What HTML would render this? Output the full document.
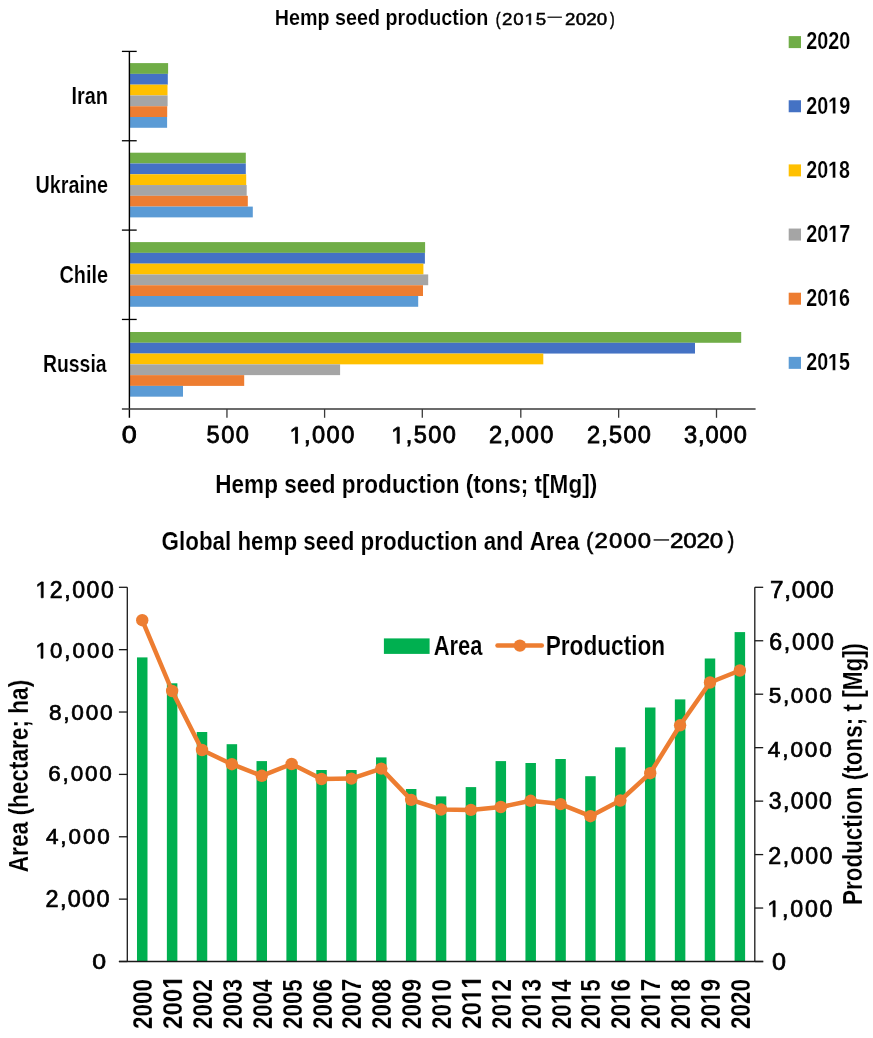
<!DOCTYPE html>
<html><head><meta charset="utf-8"><title>Hemp seed production charts</title>
<style>
html,body{margin:0;padding:0;background:#fff;}
body{width:873px;height:1038px;overflow:hidden;}
svg{display:block;font-family:"Liberation Sans",sans-serif;font-kerning:none;will-change:transform;}
text{font-kerning:none;}
text[font-weight="bold"]{stroke:#fff;stroke-width:0.15px;}
.rl{stroke:#000;stroke-width:0.7px;}
.m1{stroke:#000;stroke-width:0.8px;}
.m2{stroke:#000;stroke-width:0.5px;}
.m3{stroke:#000;stroke-width:0.65px;}
</style></head>
<body>
<svg width="873" height="1038" viewBox="0 0 873 1038">
<rect x="0" y="0" width="873" height="1038" fill="#fff"/>
<rect x="129.40" y="63.10" width="38.70" height="10.78" fill="#70AD47"/>
<rect x="129.40" y="73.88" width="38.40" height="10.78" fill="#4472C4"/>
<rect x="129.40" y="84.66" width="38.10" height="10.78" fill="#FFC000"/>
<rect x="129.40" y="95.44" width="38.20" height="10.78" fill="#A5A5A5"/>
<rect x="129.40" y="106.22" width="37.80" height="10.78" fill="#ED7D31"/>
<rect x="129.40" y="117.00" width="37.70" height="10.78" fill="#5B9BD5"/>
<rect x="129.40" y="152.70" width="116.40" height="10.78" fill="#70AD47"/>
<rect x="129.40" y="163.48" width="116.40" height="10.78" fill="#4472C4"/>
<rect x="129.40" y="174.26" width="116.80" height="10.78" fill="#FFC000"/>
<rect x="129.40" y="185.04" width="117.30" height="10.78" fill="#A5A5A5"/>
<rect x="129.40" y="195.82" width="118.40" height="10.78" fill="#ED7D31"/>
<rect x="129.40" y="206.60" width="123.40" height="10.78" fill="#5B9BD5"/>
<rect x="129.40" y="242.10" width="295.70" height="10.78" fill="#70AD47"/>
<rect x="129.40" y="252.88" width="295.50" height="10.78" fill="#4472C4"/>
<rect x="129.40" y="263.66" width="294.00" height="10.78" fill="#FFC000"/>
<rect x="129.40" y="274.44" width="298.80" height="10.78" fill="#A5A5A5"/>
<rect x="129.40" y="285.22" width="293.60" height="10.78" fill="#ED7D31"/>
<rect x="129.40" y="296.00" width="288.80" height="10.78" fill="#5B9BD5"/>
<rect x="129.40" y="332.00" width="611.80" height="10.78" fill="#70AD47"/>
<rect x="129.40" y="342.78" width="565.60" height="10.78" fill="#4472C4"/>
<rect x="129.40" y="353.56" width="413.90" height="10.78" fill="#FFC000"/>
<rect x="129.40" y="364.34" width="210.70" height="10.78" fill="#A5A5A5"/>
<rect x="129.40" y="375.12" width="114.80" height="10.78" fill="#ED7D31"/>
<rect x="129.40" y="385.90" width="53.60" height="10.78" fill="#5B9BD5"/>
<line x1="129.4" y1="51.4" x2="129.4" y2="417.8" stroke="#000" stroke-width="1.4"/>
<line x1="121.9" y1="51.40" x2="136.7" y2="51.40" stroke="#000" stroke-width="1.3"/>
<line x1="121.9" y1="140.75" x2="136.7" y2="140.75" stroke="#000" stroke-width="1.3"/>
<line x1="121.9" y1="230.10" x2="136.7" y2="230.10" stroke="#000" stroke-width="1.3"/>
<line x1="121.9" y1="319.45" x2="136.7" y2="319.45" stroke="#000" stroke-width="1.3"/>
<line x1="121.9" y1="409.0" x2="755.6" y2="409.0" stroke="#3a3a3a" stroke-width="1.4"/>
<line x1="226.95" y1="409" x2="226.95" y2="417.8" stroke="#3a3a3a" stroke-width="1.3"/>
<line x1="324.60" y1="409" x2="324.60" y2="417.8" stroke="#3a3a3a" stroke-width="1.3"/>
<line x1="422.30" y1="409" x2="422.30" y2="417.8" stroke="#3a3a3a" stroke-width="1.3"/>
<line x1="520.80" y1="409" x2="520.80" y2="417.8" stroke="#3a3a3a" stroke-width="1.3"/>
<line x1="618.65" y1="409" x2="618.65" y2="417.8" stroke="#3a3a3a" stroke-width="1.3"/>
<line x1="716.50" y1="409" x2="716.50" y2="417.8" stroke="#3a3a3a" stroke-width="1.3"/>
<text x="71.39" y="104.38" font-size="24.65" font-weight="bold" textLength="36.53" lengthAdjust="spacingAndGlyphs" fill="#000">Iran</text>
<text x="35.43" y="193.48" font-size="23.78" font-weight="bold" textLength="72.63" lengthAdjust="spacingAndGlyphs" fill="#000">Ukraine</text>
<text x="59.50" y="282.88" font-size="24.22" font-weight="bold" textLength="48.66" lengthAdjust="spacingAndGlyphs" fill="#000">Chile</text>
<text x="43.02" y="372.08" font-size="24.80" font-weight="bold" textLength="63.53" lengthAdjust="spacingAndGlyphs" fill="#000">Russia</text>
<rect x="788.7" y="36.10" width="12.3" height="12.0" fill="#70AD47"/>
<text x="806.24" y="49.45" font-size="23.39" font-weight="bold" textLength="43.96" lengthAdjust="spacingAndGlyphs" fill="#000">2020</text>
<rect x="788.7" y="100.25" width="12.3" height="12.0" fill="#4472C4"/>
<text x="806.24" y="113.60" font-size="23.39" font-weight="bold" textLength="43.88" lengthAdjust="spacingAndGlyphs" fill="#000">20 9</text><path transform="translate(828.174,113.602) scale(0.009630,0.011421)" d="M478,0 L478,-1170 L140,-959 L140,-1180 L493,-1409 L759,-1409 L759,0 Z" fill="#000" stroke="#fff" stroke-width="0.15" vector-effect="non-scaling-stroke"/>
<rect x="788.7" y="164.40" width="12.3" height="12.0" fill="#FFC000"/>
<text x="806.24" y="177.75" font-size="23.39" font-weight="bold" textLength="43.75" lengthAdjust="spacingAndGlyphs" fill="#000">20 8</text><path transform="translate(828.112,177.752) scale(0.009602,0.011421)" d="M478,0 L478,-1170 L140,-959 L140,-1180 L493,-1409 L759,-1409 L759,0 Z" fill="#000" stroke="#fff" stroke-width="0.15" vector-effect="non-scaling-stroke"/>
<rect x="788.7" y="228.55" width="12.3" height="12.0" fill="#A5A5A5"/>
<text x="806.23" y="241.90" font-size="23.39" font-weight="bold" textLength="44.02" lengthAdjust="spacingAndGlyphs" fill="#000">20 7</text><path transform="translate(828.242,241.902) scale(0.009661,0.011421)" d="M478,0 L478,-1170 L140,-959 L140,-1180 L493,-1409 L759,-1409 L759,0 Z" fill="#000" stroke="#fff" stroke-width="0.15" vector-effect="non-scaling-stroke"/>
<rect x="788.7" y="292.70" width="12.3" height="12.0" fill="#ED7D31"/>
<text x="806.24" y="306.05" font-size="23.39" font-weight="bold" textLength="43.86" lengthAdjust="spacingAndGlyphs" fill="#000">20 6</text><path transform="translate(828.164,306.052) scale(0.009626,0.011421)" d="M478,0 L478,-1170 L140,-959 L140,-1180 L493,-1409 L759,-1409 L759,0 Z" fill="#000" stroke="#fff" stroke-width="0.15" vector-effect="non-scaling-stroke"/>
<rect x="788.7" y="356.85" width="12.3" height="12.0" fill="#5B9BD5"/>
<text x="806.24" y="370.20" font-size="23.39" font-weight="bold" textLength="43.69" lengthAdjust="spacingAndGlyphs" fill="#000">20 5</text><path transform="translate(828.083,370.202) scale(0.009589,0.011421)" d="M478,0 L478,-1170 L140,-959 L140,-1180 L493,-1409 L759,-1409 L759,0 Z" fill="#000" stroke="#fff" stroke-width="0.15" vector-effect="non-scaling-stroke"/>
<text x="121.85" y="443.37" font-size="23.59" font-weight="normal" textLength="15.01" lengthAdjust="spacingAndGlyphs" fill="#000" class="m1">0</text>
<text x="206.46" y="443.37" font-size="23.59" font-weight="normal" letter-spacing="1.56" fill="#000" class="m1">500</text>
<text x="289.53" y="443.37" font-size="23.59" font-weight="normal" letter-spacing="1.44" fill="#000" class="m1"> ,000</text><path transform="translate(289.531,443.370) scale(0.011517)" d="M515,0 L515,-1237 L197,-1010 L197,-1180 L530,-1409 L696,-1409 L696,0 Z" fill="#000" stroke="#000" stroke-width="0.8" vector-effect="non-scaling-stroke"/>
<text x="391.23" y="443.37" font-size="23.59" font-weight="normal" letter-spacing="1.42" fill="#000" class="m1"> ,500</text><path transform="translate(391.231,443.370) scale(0.011517)" d="M515,0 L515,-1237 L197,-1010 L197,-1180 L530,-1409 L696,-1409 L696,0 Z" fill="#000" stroke="#000" stroke-width="0.8" vector-effect="non-scaling-stroke"/>
<text x="489.11" y="443.37" font-size="23.59" font-weight="normal" letter-spacing="1.30" fill="#000" class="m1">2,000</text>
<text x="587.01" y="443.37" font-size="23.59" font-weight="normal" letter-spacing="1.20" fill="#000" class="m1">2,500</text>
<text x="683.90" y="443.37" font-size="23.59" font-weight="normal" letter-spacing="0.97" fill="#000" class="m1">3,000</text>
<text x="274.85" y="25.18" font-size="22.91" font-weight="bold" textLength="213.55" lengthAdjust="spacingAndGlyphs" fill="#000">Hemp seed production</text>
<text transform="translate(503.00,24.84) scale(1.150,1)" x="-0.82" y="0" font-size="16.24" font-weight="normal" letter-spacing="0.72" fill="#000" class="m2">20 5</text><path transform="translate(503.000,24.841) scale(1.1500,1) translate(18.682,0) scale(0.007931)" d="M515,0 L515,-1237 L197,-1010 L197,-1180 L530,-1409 L696,-1409 L696,0 Z" fill="#000" stroke="#000" stroke-width="0.5" vector-effect="non-scaling-stroke"/>
<text x="495.71" y="25.11" font-size="17.82" font-weight="normal" textLength="4.77" lengthAdjust="spacingAndGlyphs" fill="#000" class="m2">(</text>
<rect x="547.5" y="16.6" width="14.4" height="1.2" fill="#000"/>
<text transform="translate(566.00,24.74) scale(1.150,1)" x="-0.82" y="0" font-size="16.24" font-weight="normal" letter-spacing="0.15" fill="#000" class="m2">2020</text>
<text x="610.12" y="25.16" font-size="18.57" font-weight="normal" textLength="4.65" lengthAdjust="spacingAndGlyphs" fill="#000" class="m2">)</text>
<text x="215.31" y="492.88" font-size="26.25" font-weight="bold" textLength="381.89" lengthAdjust="spacingAndGlyphs" fill="#000">Hemp seed production (tons; t[Mg])</text>
<rect x="136.99" y="657.40" width="10.50" height="304.10" fill="#00B050"/>
<rect x="166.87" y="683.30" width="10.50" height="278.20" fill="#00B050"/>
<rect x="196.75" y="732.00" width="10.50" height="229.50" fill="#00B050"/>
<rect x="226.63" y="744.20" width="10.50" height="217.30" fill="#00B050"/>
<rect x="256.51" y="761.10" width="10.50" height="200.40" fill="#00B050"/>
<rect x="286.40" y="765.00" width="10.50" height="196.50" fill="#00B050"/>
<rect x="316.28" y="770.00" width="10.50" height="191.50" fill="#00B050"/>
<rect x="346.16" y="770.00" width="10.50" height="191.50" fill="#00B050"/>
<rect x="376.04" y="757.40" width="10.50" height="204.10" fill="#00B050"/>
<rect x="405.92" y="789.00" width="10.50" height="172.50" fill="#00B050"/>
<rect x="435.80" y="796.40" width="10.50" height="165.10" fill="#00B050"/>
<rect x="465.68" y="787.10" width="10.50" height="174.40" fill="#00B050"/>
<rect x="495.56" y="761.10" width="10.50" height="200.40" fill="#00B050"/>
<rect x="525.44" y="763.00" width="10.50" height="198.50" fill="#00B050"/>
<rect x="555.32" y="759.00" width="10.50" height="202.50" fill="#00B050"/>
<rect x="585.20" y="776.20" width="10.50" height="185.30" fill="#00B050"/>
<rect x="615.09" y="747.30" width="10.50" height="214.20" fill="#00B050"/>
<rect x="644.97" y="707.50" width="10.50" height="254.00" fill="#00B050"/>
<rect x="674.85" y="699.40" width="10.50" height="262.10" fill="#00B050"/>
<rect x="704.73" y="658.50" width="10.50" height="303.00" fill="#00B050"/>
<rect x="734.61" y="632.10" width="10.50" height="329.40" fill="#00B050"/>
<polyline points="142.24,620.20 172.12,691.00 202.00,750.00 231.88,764.20 261.76,775.80 291.65,764.00 321.53,779.00 351.41,778.60 381.29,768.60 411.17,799.90 441.05,809.50 470.93,809.90 500.81,807.00 530.69,800.80 560.57,804.10 590.45,816.20 620.34,800.50 650.22,773.20 680.10,725.30 709.98,682.50 739.86,670.50" fill="none" stroke="#ED7D31" stroke-width="4.5" stroke-linejoin="round" stroke-linecap="round"/>
<circle cx="142.24" cy="620.20" r="6.2" fill="#ED7D31"/>
<circle cx="172.12" cy="691.00" r="6.2" fill="#ED7D31"/>
<circle cx="202.00" cy="750.00" r="6.2" fill="#ED7D31"/>
<circle cx="231.88" cy="764.20" r="6.2" fill="#ED7D31"/>
<circle cx="261.76" cy="775.80" r="6.2" fill="#ED7D31"/>
<circle cx="291.65" cy="764.00" r="6.2" fill="#ED7D31"/>
<circle cx="321.53" cy="779.00" r="6.2" fill="#ED7D31"/>
<circle cx="351.41" cy="778.60" r="6.2" fill="#ED7D31"/>
<circle cx="381.29" cy="768.60" r="6.2" fill="#ED7D31"/>
<circle cx="411.17" cy="799.90" r="6.2" fill="#ED7D31"/>
<circle cx="441.05" cy="809.50" r="6.2" fill="#ED7D31"/>
<circle cx="470.93" cy="809.90" r="6.2" fill="#ED7D31"/>
<circle cx="500.81" cy="807.00" r="6.2" fill="#ED7D31"/>
<circle cx="530.69" cy="800.80" r="6.2" fill="#ED7D31"/>
<circle cx="560.57" cy="804.10" r="6.2" fill="#ED7D31"/>
<circle cx="590.45" cy="816.20" r="6.2" fill="#ED7D31"/>
<circle cx="620.34" cy="800.50" r="6.2" fill="#ED7D31"/>
<circle cx="650.22" cy="773.20" r="6.2" fill="#ED7D31"/>
<circle cx="680.10" cy="725.30" r="6.2" fill="#ED7D31"/>
<circle cx="709.98" cy="682.50" r="6.2" fill="#ED7D31"/>
<circle cx="739.86" cy="670.50" r="6.2" fill="#ED7D31"/>
<line x1="127.3" y1="587.3" x2="127.3" y2="961.5" stroke="#1a1a1a" stroke-width="1.3"/>
<line x1="754.8" y1="587.3" x2="754.8" y2="961.5" stroke="#1a1a1a" stroke-width="1.3"/>
<line x1="118.9" y1="961.5" x2="763.2" y2="961.5" stroke="#1a1a1a" stroke-width="1.3"/>
<line x1="118.9" y1="961.50" x2="127.3" y2="961.50" stroke="#1a1a1a" stroke-width="1.3"/>
<line x1="118.9" y1="899.13" x2="127.3" y2="899.13" stroke="#1a1a1a" stroke-width="1.3"/>
<line x1="118.9" y1="836.77" x2="127.3" y2="836.77" stroke="#1a1a1a" stroke-width="1.3"/>
<line x1="118.9" y1="774.40" x2="127.3" y2="774.40" stroke="#1a1a1a" stroke-width="1.3"/>
<line x1="118.9" y1="712.03" x2="127.3" y2="712.03" stroke="#1a1a1a" stroke-width="1.3"/>
<line x1="118.9" y1="649.67" x2="127.3" y2="649.67" stroke="#1a1a1a" stroke-width="1.3"/>
<line x1="118.9" y1="587.30" x2="127.3" y2="587.30" stroke="#1a1a1a" stroke-width="1.3"/>
<line x1="754.8" y1="961.50" x2="763.2" y2="961.50" stroke="#1a1a1a" stroke-width="1.3"/>
<line x1="754.8" y1="908.04" x2="763.2" y2="908.04" stroke="#1a1a1a" stroke-width="1.3"/>
<line x1="754.8" y1="854.59" x2="763.2" y2="854.59" stroke="#1a1a1a" stroke-width="1.3"/>
<line x1="754.8" y1="801.13" x2="763.2" y2="801.13" stroke="#1a1a1a" stroke-width="1.3"/>
<line x1="754.8" y1="747.67" x2="763.2" y2="747.67" stroke="#1a1a1a" stroke-width="1.3"/>
<line x1="754.8" y1="694.21" x2="763.2" y2="694.21" stroke="#1a1a1a" stroke-width="1.3"/>
<line x1="754.8" y1="640.76" x2="763.2" y2="640.76" stroke="#1a1a1a" stroke-width="1.3"/>
<line x1="754.8" y1="587.30" x2="763.2" y2="587.30" stroke="#1a1a1a" stroke-width="1.3"/>
<text x="35.39" y="597.78" font-size="23.02" font-weight="normal" letter-spacing="1.60" fill="#000" class="rl"> 2,000</text><path transform="translate(35.385,597.775) scale(0.011241)" d="M515,0 L515,-1237 L197,-1010 L197,-1180 L530,-1409 L696,-1409 L696,0 Z" fill="#000" stroke="#000" stroke-width="0.7" vector-effect="non-scaling-stroke"/>
<text x="35.47" y="658.28" font-size="22.17" font-weight="normal" letter-spacing="2.10" fill="#000" class="rl"> 0,000</text><path transform="translate(35.467,658.283) scale(0.010828)" d="M515,0 L515,-1237 L197,-1010 L197,-1180 L530,-1409 L696,-1409 L696,0 Z" fill="#000" stroke="#000" stroke-width="0.7" vector-effect="non-scaling-stroke"/>
<text x="48.92" y="719.98" font-size="22.60" font-weight="normal" letter-spacing="1.80" fill="#000" class="rl">8,000</text>
<text x="48.26" y="781.48" font-size="22.46" font-weight="normal" letter-spacing="1.83" fill="#000" class="rl">6,000</text>
<text x="45.98" y="843.88" font-size="22.46" font-weight="normal" letter-spacing="1.90" fill="#000" class="rl">4,000</text>
<text x="45.52" y="907.07" font-size="23.45" font-weight="normal" letter-spacing="1.33" fill="#000" class="rl">2,000</text>
<text x="92.23" y="968.68" font-size="22.88" font-weight="normal" textLength="13.84" lengthAdjust="spacingAndGlyphs" fill="#000" class="rl">0</text>
<text x="769.95" y="597.96" font-size="24.29" font-weight="normal" letter-spacing="0.78" fill="#000" class="rl">7,000</text>
<text x="769.32" y="650.47" font-size="23.16" font-weight="normal" letter-spacing="1.63" fill="#000" class="rl">6,000</text>
<text x="768.70" y="703.48" font-size="22.60" font-weight="normal" letter-spacing="1.66" fill="#000" class="rl">5,000</text>
<text x="767.78" y="756.68" font-size="22.60" font-weight="normal" letter-spacing="1.89" fill="#000" class="rl">4,000</text>
<text x="768.72" y="809.38" font-size="23.02" font-weight="normal" letter-spacing="1.39" fill="#000" class="rl">3,000</text>
<text x="768.34" y="864.07" font-size="23.16" font-weight="normal" letter-spacing="1.55" fill="#000" class="rl">2,000</text>
<text x="767.27" y="916.77" font-size="23.16" font-weight="normal" letter-spacing="1.82" fill="#000" class="rl"> ,000</text><path transform="translate(767.272,916.774) scale(0.011310)" d="M515,0 L515,-1237 L197,-1010 L197,-1180 L530,-1409 L696,-1409 L696,0 Z" fill="#000" stroke="#000" stroke-width="0.7" vector-effect="non-scaling-stroke"/>
<text x="772.12" y="969.57" font-size="23.16" font-weight="normal" textLength="13.96" lengthAdjust="spacingAndGlyphs" fill="#000" class="rl">0</text>
<text transform="translate(27.98,871.68) rotate(-90)" x="-0.56" y="0" font-size="27.85" font-weight="bold" textLength="192.45" lengthAdjust="spacingAndGlyphs">Area (hectare; ha)</text>
<text transform="translate(862.18,903.58) rotate(-90)" x="-1.50" y="0" font-size="27.56" font-weight="bold" textLength="262.18" lengthAdjust="spacingAndGlyphs">Production (tons; t [Mg])</text>
<text x="161.60" y="549.78" font-size="26.11" font-weight="bold" textLength="417.84" lengthAdjust="spacingAndGlyphs" fill="#000">Global hemp seed production and Area</text>
<text transform="translate(595.80,548.19) scale(1.100,1)" x="-1.09" y="0" font-size="21.75" font-weight="normal" letter-spacing="1.00" fill="#000" class="m3">2000</text>
<text x="586.29" y="548.59" font-size="23.72" font-weight="normal" textLength="7.03" lengthAdjust="spacingAndGlyphs" fill="#000" class="m3">(</text>
<rect x="653.6" y="539.3" width="15.5" height="1.3" fill="#000"/>
<text transform="translate(671.10,547.98) scale(1.100,1)" x="-1.11" y="0" font-size="22.03" font-weight="normal" letter-spacing="-0.20" fill="#000" class="m3">2020</text>
<text x="727.69" y="548.37" font-size="23.83" font-weight="normal" textLength="6.53" lengthAdjust="spacingAndGlyphs" fill="#000" class="m3">)</text>
<rect x="383.9" y="638.4" width="45.7" height="15.5" fill="#00B050"/>
<text x="433.67" y="654.68" font-size="26.98" font-weight="bold" textLength="48.67" lengthAdjust="spacingAndGlyphs" fill="#000">Area</text>
<line x1="497.5" y1="645.6" x2="541.8" y2="645.6" stroke="#ED7D31" stroke-width="4.5" stroke-linecap="round"/>
<circle cx="519.9" cy="645.6" r="6.2" fill="#ED7D31"/>
<text x="545.71" y="654.98" font-size="27.27" font-weight="bold" textLength="119.38" lengthAdjust="spacingAndGlyphs" fill="#000">Production</text>
<text transform="translate(152.25,1028.18) rotate(-90)" x="-0.78" y="0" font-size="27.77" font-weight="bold" textLength="50.06" lengthAdjust="spacingAndGlyphs">2000</text>
<text transform="translate(182.13,1028.18) rotate(-90)" x="-0.84" y="0" font-size="27.77" font-weight="bold" textLength="53.67" lengthAdjust="spacingAndGlyphs">200 </text><path transform="translate(182.130,1028.180) rotate(-90) translate(39.418,0) scale(0.011781,0.013559)" d="M478,0 L478,-1170 L140,-959 L140,-1180 L493,-1409 L759,-1409 L759,0 Z" fill="#000" stroke="#fff" stroke-width="0.15" vector-effect="non-scaling-stroke"/>
<text transform="translate(212.01,1028.18) rotate(-90)" x="-0.78" y="0" font-size="27.77" font-weight="bold" textLength="50.04" lengthAdjust="spacingAndGlyphs">2002</text>
<text transform="translate(241.89,1028.18) rotate(-90)" x="-0.78" y="0" font-size="27.77" font-weight="bold" textLength="49.95" lengthAdjust="spacingAndGlyphs">2003</text>
<text transform="translate(271.77,1028.18) rotate(-90)" x="-0.77" y="0" font-size="27.77" font-weight="bold" textLength="49.25" lengthAdjust="spacingAndGlyphs">2004</text>
<text transform="translate(301.65,1028.18) rotate(-90)" x="-0.78" y="0" font-size="27.77" font-weight="bold" textLength="49.76" lengthAdjust="spacingAndGlyphs">2005</text>
<text transform="translate(331.54,1028.18) rotate(-90)" x="-0.78" y="0" font-size="27.77" font-weight="bold" textLength="49.95" lengthAdjust="spacingAndGlyphs">2006</text>
<text transform="translate(361.42,1028.18) rotate(-90)" x="-0.78" y="0" font-size="27.77" font-weight="bold" textLength="50.13" lengthAdjust="spacingAndGlyphs">2007</text>
<text transform="translate(391.30,1028.18) rotate(-90)" x="-0.78" y="0" font-size="27.77" font-weight="bold" textLength="49.83" lengthAdjust="spacingAndGlyphs">2008</text>
<text transform="translate(421.18,1028.18) rotate(-90)" x="-0.78" y="0" font-size="27.77" font-weight="bold" textLength="49.97" lengthAdjust="spacingAndGlyphs">2009</text>
<text transform="translate(451.06,1028.18) rotate(-90)" x="-0.78" y="0" font-size="27.77" font-weight="bold" textLength="50.06" lengthAdjust="spacingAndGlyphs">20 0</text><path transform="translate(451.059,1028.180) rotate(-90) translate(24.251,0) scale(0.010988,0.013559)" d="M478,0 L478,-1170 L140,-959 L140,-1180 L493,-1409 L759,-1409 L759,0 Z" fill="#000" stroke="#fff" stroke-width="0.15" vector-effect="non-scaling-stroke"/>
<text transform="translate(480.94,1028.18) rotate(-90)" x="-0.84" y="0" font-size="27.77" font-weight="bold" textLength="53.67" lengthAdjust="spacingAndGlyphs">20  </text><path transform="translate(480.940,1028.180) rotate(-90) translate(26.000,0) scale(0.011781,0.013559)" d="M478,0 L478,-1170 L140,-959 L140,-1180 L493,-1409 L759,-1409 L759,0 Z" fill="#000" stroke="#fff" stroke-width="0.15" vector-effect="non-scaling-stroke"/><path transform="translate(480.940,1028.180) rotate(-90) translate(39.418,0) scale(0.011781,0.013559)" d="M478,0 L478,-1170 L140,-959 L140,-1180 L493,-1409 L759,-1409 L759,0 Z" fill="#000" stroke="#fff" stroke-width="0.15" vector-effect="non-scaling-stroke"/>
<text transform="translate(510.82,1028.18) rotate(-90)" x="-0.78" y="0" font-size="27.77" font-weight="bold" textLength="50.04" lengthAdjust="spacingAndGlyphs">20 2</text><path transform="translate(510.821,1028.180) rotate(-90) translate(24.240,0) scale(0.010983,0.013559)" d="M478,0 L478,-1170 L140,-959 L140,-1180 L493,-1409 L759,-1409 L759,0 Z" fill="#000" stroke="#fff" stroke-width="0.15" vector-effect="non-scaling-stroke"/>
<text transform="translate(540.70,1028.18) rotate(-90)" x="-0.78" y="0" font-size="27.77" font-weight="bold" textLength="49.95" lengthAdjust="spacingAndGlyphs">20 3</text><path transform="translate(540.702,1028.180) rotate(-90) translate(24.196,0) scale(0.010964,0.013559)" d="M478,0 L478,-1170 L140,-959 L140,-1180 L493,-1409 L759,-1409 L759,0 Z" fill="#000" stroke="#fff" stroke-width="0.15" vector-effect="non-scaling-stroke"/>
<text transform="translate(570.58,1028.18) rotate(-90)" x="-0.77" y="0" font-size="27.77" font-weight="bold" textLength="49.25" lengthAdjust="spacingAndGlyphs">20 4</text><path transform="translate(570.583,1028.180) rotate(-90) translate(23.856,0) scale(0.010809,0.013559)" d="M478,0 L478,-1170 L140,-959 L140,-1180 L493,-1409 L759,-1409 L759,0 Z" fill="#000" stroke="#fff" stroke-width="0.15" vector-effect="non-scaling-stroke"/>
<text transform="translate(600.46,1028.18) rotate(-90)" x="-0.78" y="0" font-size="27.77" font-weight="bold" textLength="49.76" lengthAdjust="spacingAndGlyphs">20 5</text><path transform="translate(600.464,1028.180) rotate(-90) translate(24.104,0) scale(0.010921,0.013559)" d="M478,0 L478,-1170 L140,-959 L140,-1180 L493,-1409 L759,-1409 L759,0 Z" fill="#000" stroke="#fff" stroke-width="0.15" vector-effect="non-scaling-stroke"/>
<text transform="translate(630.34,1028.18) rotate(-90)" x="-0.78" y="0" font-size="27.77" font-weight="bold" textLength="49.95" lengthAdjust="spacingAndGlyphs">20 6</text><path transform="translate(630.345,1028.180) rotate(-90) translate(24.196,0) scale(0.010964,0.013559)" d="M478,0 L478,-1170 L140,-959 L140,-1180 L493,-1409 L759,-1409 L759,0 Z" fill="#000" stroke="#fff" stroke-width="0.15" vector-effect="non-scaling-stroke"/>
<text transform="translate(660.23,1028.18) rotate(-90)" x="-0.78" y="0" font-size="27.77" font-weight="bold" textLength="50.13" lengthAdjust="spacingAndGlyphs">20 7</text><path transform="translate(660.225,1028.180) rotate(-90) translate(24.285,0) scale(0.011003,0.013559)" d="M478,0 L478,-1170 L140,-959 L140,-1180 L493,-1409 L759,-1409 L759,0 Z" fill="#000" stroke="#fff" stroke-width="0.15" vector-effect="non-scaling-stroke"/>
<text transform="translate(690.11,1028.18) rotate(-90)" x="-0.78" y="0" font-size="27.77" font-weight="bold" textLength="49.83" lengthAdjust="spacingAndGlyphs">20 8</text><path transform="translate(690.106,1028.180) rotate(-90) translate(24.136,0) scale(0.010936,0.013559)" d="M478,0 L478,-1170 L140,-959 L140,-1180 L493,-1409 L759,-1409 L759,0 Z" fill="#000" stroke="#fff" stroke-width="0.15" vector-effect="non-scaling-stroke"/>
<text transform="translate(719.99,1028.18) rotate(-90)" x="-0.78" y="0" font-size="27.77" font-weight="bold" textLength="49.97" lengthAdjust="spacingAndGlyphs">20 9</text><path transform="translate(719.987,1028.180) rotate(-90) translate(24.207,0) scale(0.010968,0.013559)" d="M478,0 L478,-1170 L140,-959 L140,-1180 L493,-1409 L759,-1409 L759,0 Z" fill="#000" stroke="#fff" stroke-width="0.15" vector-effect="non-scaling-stroke"/>
<text transform="translate(749.87,1028.18) rotate(-90)" x="-0.78" y="0" font-size="27.77" font-weight="bold" textLength="50.06" lengthAdjust="spacingAndGlyphs">2020</text>
</svg>
</body></html>
